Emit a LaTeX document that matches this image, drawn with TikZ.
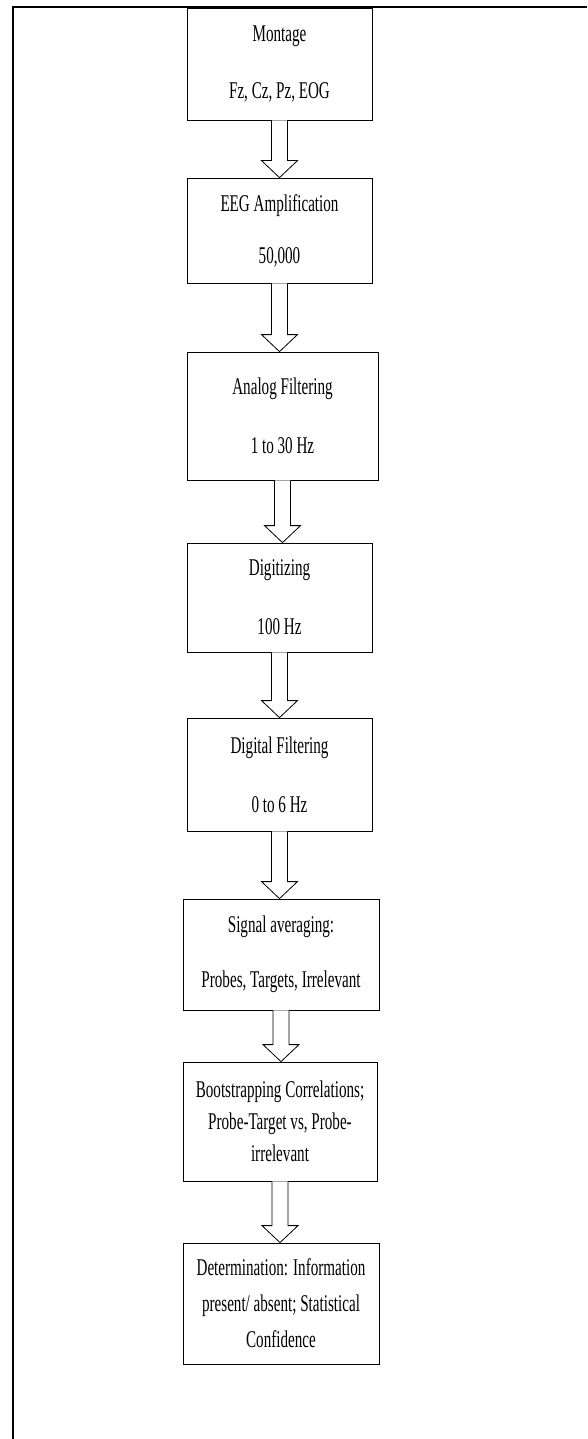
\documentclass[tikz,border=0pt]{standalone}
\usepackage{fontspec}
\setmainfont[FakeStretch=0.63]{Liberation Serif}
\usetikzlibrary{calc}
\tikzset{
	stage/.style={draw, line width=0.8pt, align=center, inner sep=0pt},
	blockarrow/.style={draw, fill=white, line width=0.8pt, line join=miter}
}
\begin{document}
\begin{tikzpicture}[x=1pt, y=-1pt, font=\fontsize{24}{32}\selectfont, line cap=butt]
			\useasboundingbox (0,0) rectangle (587,1439);
			\draw [line width=2pt]
			(13,1439)--(13,7)--(587,7)
			;
			\node[stage, minimum width=185pt, minimum height=112pt] (mont) at (279.5,64) {Montage\\[25pt]Fz, Cz, Pz, EOG};
			\node[stage, minimum width=185pt, minimum height=105pt] (amp) at (279.5,230.5) {EEG Amplification\\[20pt]50,000};
			\node[stage, minimum width=191pt, minimum height=128pt] (ana) at (282.5,416) {Analog Filtering\\[27pt]1 to 30 Hz};
			\node[stage, minimum width=185pt, minimum height=109pt] (dig) at (279.5,597.5) {Digitizing\\[27pt]100 Hz};
			\node[stage, minimum width=185pt, minimum height=113pt] (dfilt) at (279.5,774.5) {Digital Filtering\\[27pt]0 to 6 Hz};
			\node[stage, minimum width=196pt, minimum height=111pt] (avg) at (281,954.5) {Signal averaging:\\[23pt]Probes, Targets, Irrelevant};
			\node[stage, minimum width=194pt, minimum height=119pt] (boot) at (280,1121.5) {Bootstrapping Correlations;\\Probe-Target vs, Probe-\\irrelevant};
			\node[stage, minimum width=196pt, minimum height=121pt] (det) at (281,1303.5) {Determination: Information\\[4pt]present/ absent; Statistical\\[4pt]Confidence};
			
			\foreach \a/\b in {mont/amp,amp/ana,ana/dig,dig/dfilt,dfilt/avg,avg/boot,boot/det}
			\draw[blockarrow] let \p1=(\a.south), \p2=(\b.north) in
			({\x1-8pt},\y1)--({\x1-8pt},{\y2+17pt})--({\x1-18pt},{\y2+17pt})--(\x1,\y2)--({\x1+18pt},{\y2+17pt})--({\x1+8pt},{\y2+17pt})--({\x1+8pt},\y1);
		\end{tikzpicture}
\end{document}
